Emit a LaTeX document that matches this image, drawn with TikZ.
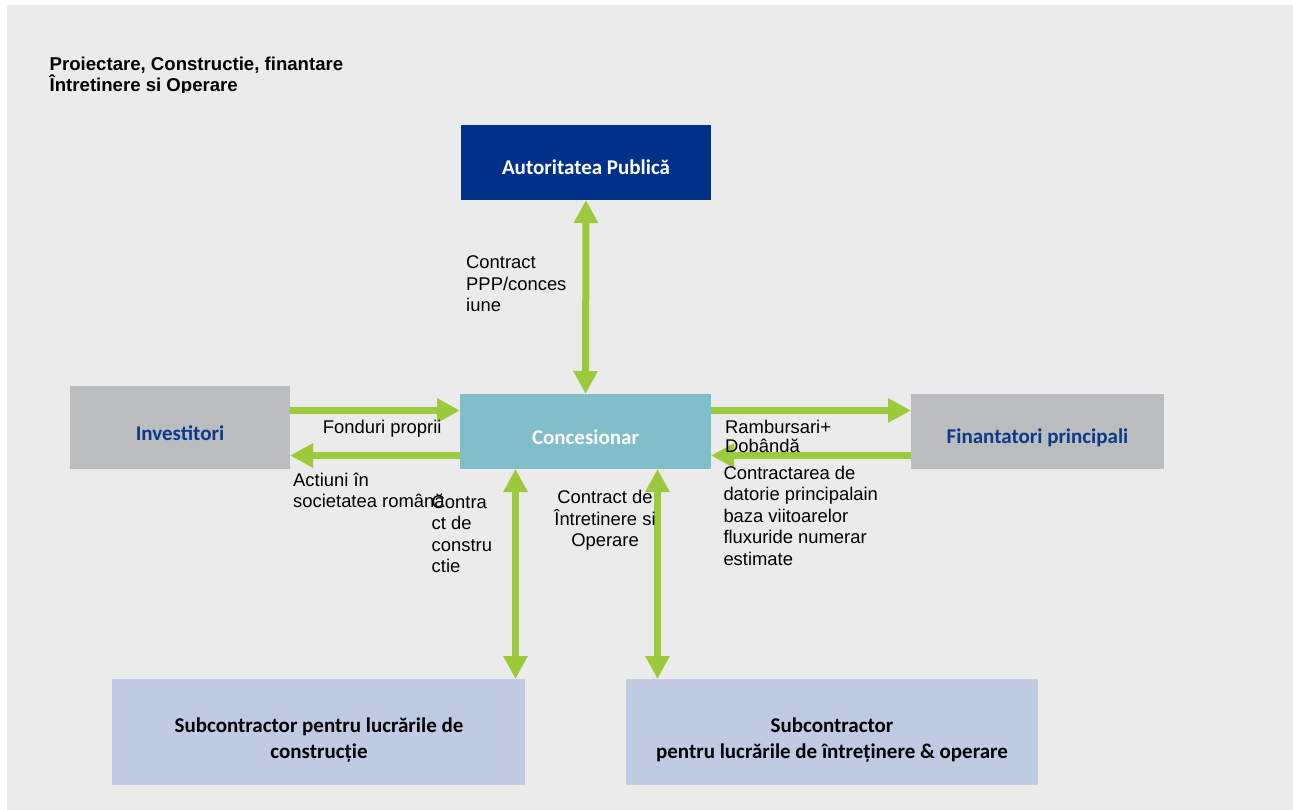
\documentclass[tikz,border=0pt]{standalone}
\usepackage{fontspec}
\setmainfont{Liberation Sans}
\newfontfamily\calfont{Carlito}
\usetikzlibrary{arrows.meta}
\definecolor{bgc}{HTML}{EBEBEB}
\definecolor{authc}{HTML}{003189}
\definecolor{concc}{HTML}{80BEC9}
\definecolor{grayc}{HTML}{BBBCBE}
\definecolor{subc}{HTML}{BFCBE3}
\definecolor{grn}{HTML}{9BCB3C}
\definecolor{bluetxt}{HTML}{0B3A8C}
\newcommand\leftlines[1]{\vtop{\halign{##\hfil\cr #1\crcr}}}
\newcommand\centerlines[1]{\vtop{\halign{\hfil##\hfil\cr #1\crcr}}}
\begin{document}
\begin{tikzpicture}[x=1pt,y=-1pt,
  box/.style={rectangle,inner sep=0pt,outer sep=0pt},
  boxtxt/.style={inner sep=0pt,anchor=base,font=\calfont\bfseries\fontsize{21}{26}\selectfont},
  lbl/.style={inner sep=0pt,anchor=base west,font=\fontsize{18.4}{21.5}\selectfont},
  tip/.tip={Triangle[width=23pt,length=23pt]},
  arr/.style={draw=grn,line width=7pt,-tip},
  dbl/.style={draw=grn,line width=7pt,tip-tip}]
\useasboundingbox (0,0) rectangle (1293,810);
\fill[white] (0,0) rectangle (1293,810);
\fill[bgc] (7,5) rectangle (1293,810);

% title (clipped as in the reference)
\begin{scope}
\clip (0,0) rectangle (1293,93);
\node[inner sep=0pt,anchor=base west,font=\bfseries\fontsize{18.6}{19}\selectfont] (title) at (49.5,71)
  {\leftlines{Proiectare, Constructie, finantare\cr Întretinere si Operare}};
\end{scope}

% boxes
\node[box,fill=authc,minimum width=250pt,minimum height=75pt] (auth) at (586,162.5) {};
\node[box,fill=concc,minimum width=251pt,minimum height=75pt] (conc) at (585.5,431.5) {};
\node[box,fill=grayc,minimum width=220pt,minimum height=83pt] (inv) at (180,427.5) {};
\node[box,fill=grayc,minimum width=253pt,minimum height=75pt] (fin) at (1037.5,431.5) {};
\node[box,fill=subc,minimum width=413pt,minimum height=106pt] (sub1) at (318.5,732) {};
\node[box,fill=subc,minimum width=412pt,minimum height=106pt] (sub2) at (832,732) {};

% box texts
\node[boxtxt,text=white] (authT) at (586,175) {Autoritatea Publică};
\node[boxtxt,text=white] (concT) at (585.5,444) {Concesionar};
\node[boxtxt,text=bluetxt] (invT) at (180,440) {Investitori};
\node[boxtxt,text=bluetxt] (finT) at (1037.5,443) {Finantatori principali};
\node[boxtxt,font=\calfont\bfseries\fontsize{21}{26}\selectfont] (sub1T) at (319,732) {\centerlines{Subcontractor pentru lucrările de\cr construcție}};
\node[boxtxt] (sub2T) at (832,732) {\centerlines{Subcontractor\cr pentru lucrările de întreținere \& operare}};

% helper coordinates
\coordinate (ytop) at (0,410.5);
\coordinate (ybot) at (0,455.5);
\coordinate (xl) at (515.5,0);
\coordinate (xr) at (657.5,0);

% connectors
\draw[dbl] (auth.south) -- (conc.north);
\draw[arr] (inv.east |- ytop) -- (conc.west |- ytop);
\draw[arr] (conc.west |- ybot) -- (inv.east |- ybot);
\draw[arr] (conc.east |- ytop) -- (fin.west |- ytop);
\draw[arr] (fin.west |- ybot) -- (conc.east |- ybot);
\draw[dbl] (conc.south -| xl) -- (sub1.north -| xl);
\draw[dbl] (conc.south -| xr) -- (sub2.north -| xr);

% labels
\node[lbl] (lppp) at (466,269) {\leftlines{Contract\cr PPP/conces\cr iune}};
\node[lbl] (lfond) at (322.7,433) {Fonduri proprii};
\node[lbl] (lact) at (293,486) {\leftlines{Actiuni în\cr societatea română}};
\node[lbl] (lcon) at (431.5,508) {\leftlines{Contra\cr ct de\cr constru\cr ctie}};
\node[lbl,anchor=base] (lint) at (605,503.5) {\centerlines{Contract de\cr Întretinere si\cr Operare}};
\node[lbl,font=\fontsize{18.4}{19.5}\selectfont] (lramb) at (725,433) {\leftlines{Rambursari+\cr Dobândă}};
\node[lbl] (ldat) at (723.3,479) {\leftlines{Contractarea de\cr datorie principalain\cr baza viitoarelor\cr fluxuride numerar\cr estimate}};
\end{tikzpicture}
\end{document}
